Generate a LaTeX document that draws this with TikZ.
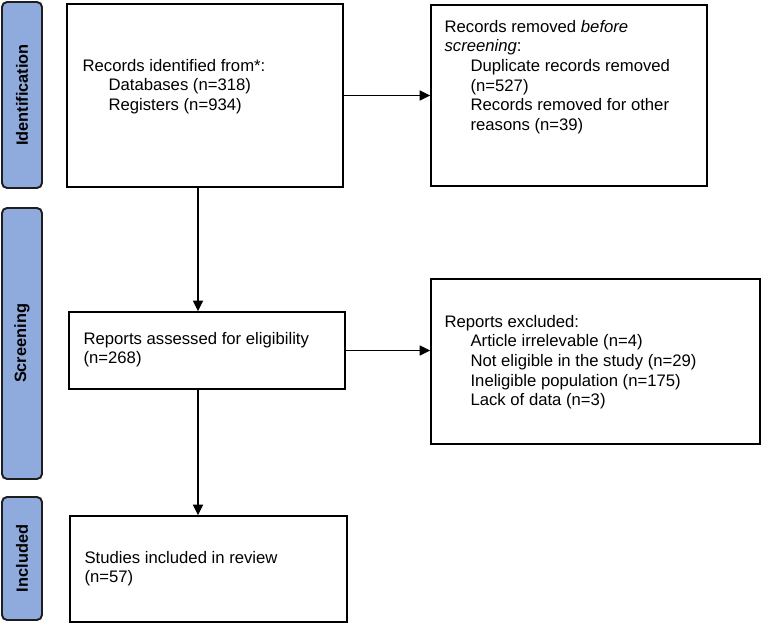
\documentclass[tikz,border=0pt]{standalone}
\usepackage{fontspec}
\setmainfont{Liberation Sans}
\usepackage{tikz}
\usetikzlibrary{calc}
\usetikzlibrary{arrows.meta}
\definecolor{barblue}{HTML}{8FAADC}
\definecolor{bardark}{HTML}{1E1E1E}
\newcommand{\indnt}{\hspace*{0.52cm}}

\begin{document}
\begin{tikzpicture}[x=0.02cm, y=-0.02cm, font=\fontsize{9.5}{11.2}\selectfont,
  box/.style={draw, line width=0.9pt, inner sep=0pt},
  stage/.style={draw=bardark, fill=barblue, line width=1.1pt, rounded corners=0.1cm, rotate=90, minimum height=0.8cm, inner sep=0pt, font=\fontsize{9.3}{11.2}\selectfont\bfseries},
  txt/.style={anchor=north west, align=left, inner sep=0pt},
  arr/.style={-{Triangle[length=0.21cm, width=0.2cm]}, line width=0.9pt}]

\useasboundingbox (0,0) rectangle (762,624);

\node[stage, minimum width=3.72cm] (ident) at (22,95) {Identification};
\node[stage, minimum width=5.42cm] (screen) at (22,343.5) {Screening};
\node[stage, minimum width=2.46cm] (incl) at (22,558.5) {Included};

\node[box, minimum width=5.52cm, minimum height=3.66cm] (b1) at (205,95.5) {};
\node[box, minimum width=5.52cm, minimum height=3.62cm] (b2) at (569,95.5) {};
\node[box, minimum width=5.52cm, minimum height=1.54cm] (b3) at (207,350.5) {};
\node[box, minimum width=6.58cm, minimum height=3.30cm] (b4) at (595.5,361.5) {};
\node[box, minimum width=5.54cm, minimum height=2.12cm] (b5) at (208.5,569) {};

\node[txt] (t1) at ($(b1.north west)+(16,55.5)$) {Records identified from*:\\ \indnt Databases (n=318)\\ \indnt Registers (n=934)};
\node[txt] (t2) at ($(b2.north west)+(14,15.5)$) {Records removed \textit{before}\\ \textit{screening}:\\ \indnt Duplicate records removed\\ \indnt (n=527)\\ \indnt Records removed for other\\ \indnt reasons (n=39)};
\node[txt] (t3) at ($(b3.north west)+(15,20.5)$) {Reports assessed for eligibility\\ (n=268)};
\node[txt] (t4) at ($(b4.north west)+(14,36.5)$) {Reports excluded:\\ \indnt Article irrelevable (n=4)\\ \indnt Not eligible in the study (n=29)\\ \indnt Ineligible population (n=175)\\ \indnt Lack of data (n=3)};
\node[txt] (t5) at ($(b5.north west)+(15,35.5)$) {Studies included in review\\ (n=57)};

\coordinate (spine) at (198,0);

\draw[arr] (b1.east) -- (b2.west);
\draw[arr] (b1.south -| spine) -- (b3.north -| spine);
\draw[arr] (b3.east) -- (b3.east -| b4.west);
\draw[arr] (b3.south -| spine) -- (b5.north -| spine);

\end{tikzpicture}
\end{document}
